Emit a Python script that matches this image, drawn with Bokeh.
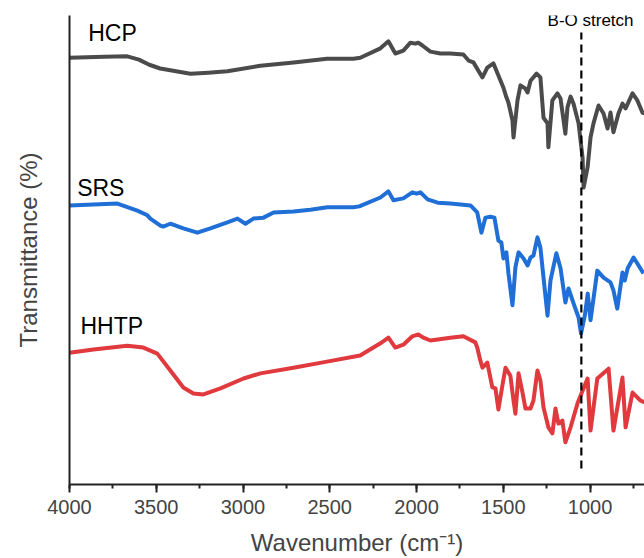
from bokeh.plotting import figure
from bokeh.models import Range1d, SingleIntervalTicker, FixedTicker, Label
from bokeh.embed import file_html
from bokeh.resources import INLINE

FONT = "Liberation Sans"

# Wavenumber (cm-1) and transmittance (arbitrary offset %)
hcp_wn = [4000, 3800, 3667, 3600, 3540, 3477, 3303, 3200, 3090, 2900, 2708, 2516, 2364, 2324,
          2208, 2162, 2122, 2076, 2035, 2006, 1990, 1966, 1920, 1862, 1805, 1730, 1700, 1672,
          1620, 1592, 1557, 1528, 1499, 1485, 1470, 1447, 1441, 1418, 1401, 1372, 1360, 1343,
          1308, 1286, 1268, 1245, 1240, 1217, 1188, 1170, 1142, 1130, 1112, 1095, 1066, 1043,
          1037, 1014, 997, 980, 951, 922, 899, 882, 865, 836, 813, 795, 755, 727, 698, 686]
hcp_t = [91.0, 91.2, 91.3, 90.6, 89.5, 88.7, 87.6, 87.8, 88.1, 89.3, 90.0, 90.8, 90.8, 91.0,
         93.0, 94.5, 91.9, 92.5, 94.2, 94.0, 94.2, 93.6, 92.3, 91.9, 91.9, 91.7, 90.4, 90.0,
         86.8, 88.9, 89.8, 87.2, 84.6, 82.9, 81.4, 77.6, 74.0, 81.9, 85.1, 84.4, 83.6, 86.1,
         87.6, 86.8, 78.2, 77.0, 71.9, 81.9, 83.4, 82.3, 74.8, 80.4, 82.7, 81.2, 77.0, 69.7,
         63.3, 67.6, 74.0, 77.0, 80.8, 79.1, 75.9, 79.3, 75.1, 79.1, 81.2, 80.2, 83.4, 81.9,
         79.3, 79.1]

srs_wn = [4000, 3724, 3609, 3551, 3534, 3476, 3460, 3419, 3344, 3263, 3188, 3090, 3032, 2986,
          2940, 2882, 2824, 2709, 2612, 2514, 2364, 2330, 2208, 2162, 2133, 2076, 2024, 2000,
          1977, 1936, 1878, 1805, 1689, 1650, 1626, 1603, 1574, 1551, 1528, 1511, 1499, 1482,
          1470, 1447, 1430, 1412, 1383, 1360, 1343, 1326, 1303, 1286, 1268, 1245, 1228, 1194,
          1170, 1142, 1124, 1095, 1066, 1052, 1030, 1013, 997, 958, 922, 882, 865, 843, 813,
          800, 783, 749, 720, 692]
srs_t = [59.5, 59.9, 58.4, 57.4, 56.7, 55.2, 55.0, 55.6, 54.6, 53.7, 54.6, 55.9, 56.7, 55.6,
         56.7, 56.9, 58.0, 58.2, 58.6, 59.1, 59.1, 59.3, 61.2, 62.5, 60.6, 61.0, 62.3, 62.0,
         62.3, 60.8, 60.1, 59.9, 59.5, 58.0, 53.7, 56.9, 57.1, 56.9, 52.0, 51.6, 48.2, 49.5,
         45.0, 38.2, 46.3, 49.5, 48.2, 46.7, 48.4, 48.8, 52.7, 50.5, 44.1, 36.0, 43.5, 49.3,
         46.1, 38.8, 41.8, 38.6, 35.6, 32.2, 36.0, 40.7, 35.0, 45.6, 44.1, 43.1, 41.4, 37.5,
         45.2, 43.5, 46.1, 48.4, 46.7, 45.0]

hhtp_wn = [4000, 3862, 3667, 3574, 3494, 3419, 3344, 3286, 3228, 3130, 2997, 2900, 2709, 2516,
           2325, 2208, 2162, 2122, 2076, 2024, 1990, 1960, 1920, 1805, 1730, 1661, 1650, 1632,
           1620, 1592, 1585, 1563, 1545, 1528, 1505, 1487, 1459, 1441, 1430, 1412, 1389, 1372,
           1343, 1326, 1303, 1286, 1268, 1240, 1217, 1199, 1182, 1159, 1142, 1112, 1072, 1043,
           1014, 997, 958, 893, 865, 813, 795, 755, 709, 686]
hhtp_t = [28.1, 28.8, 29.6, 29.2, 27.9, 24.3, 20.7, 19.4, 19.2, 20.5, 22.6, 23.7, 24.9, 26.2,
          27.5, 30.1, 31.3, 29.2, 29.8, 31.6, 32.0, 31.3, 30.7, 31.3, 31.6, 30.3, 29.2, 26.4,
          24.9, 26.0, 24.7, 20.7, 20.5, 16.0, 21.1, 24.9, 23.2, 17.9, 15.1, 23.7, 19.6, 16.2,
          16.2, 17.9, 24.3, 22.2, 16.4, 12.2, 10.9, 16.2, 13.0, 13.6, 9.0, 12.2, 17.3, 20.0,
          22.6, 11.5, 22.6, 24.7, 11.5, 22.8, 12.2, 19.6, 17.9, 17.5]

series_names = ["HCP", "SRS", "HHTP"]
series_colors = ["#4b4b4b", "#1f6fd6", "#e03a3e"]
bo_stretch_wn = 1050
x_ticks_interval = 500

p = figure(width=644, height=558, output_backend="svg", toolbar_location=None,
           x_range=Range1d(4000, 686), y_range=Range1d(0, 100),
           min_border_left=69, min_border_right=0, min_border_top=15, min_border_bottom=74)
p.outline_line_color = None
p.xgrid.visible = False
p.ygrid.visible = False
p.background_fill_color = "white"
p.border_fill_color = "white"

for wn, t, c in zip([hcp_wn, srs_wn, hhtp_wn], [hcp_t, srs_t, hhtp_t], series_colors):
    p.line(wn, t, line_color=c, line_width=4, line_join="round")

# dashed marker line
p.segment(x0=[bo_stretch_wn], y0=[3.4], x1=[bo_stretch_wn], y1=[96.4],
          line_color="black", line_width=2.2, line_dash="8 5")

lbl_pos = [(3892, 96.2), (3956, 63.3), (3937, 33.7)]
for name, (lx, ly) in zip(series_names, lbl_pos):
    p.add_layout(Label(x=lx, y=ly, text=name, text_font=FONT, text_font_size="23px",
                       text_baseline="middle", text_align="left", text_color="black"))
p.add_layout(Label(x=997, y=98.9, text="B-O stretch", text_font=FONT, text_font_size="17px",
                   text_baseline="middle", text_align="center", text_color="black"))

xa = p.xaxis[0]
xa.ticker = SingleIntervalTicker(interval=x_ticks_interval, num_minor_ticks=2)
xa.axis_label = "Wavenumber (cm\u207b\u00b9)"
xa.axis_label_text_font = FONT
xa.axis_label_text_font_style = "normal"
xa.axis_label_text_font_size = "24px"
xa.axis_label_standoff = 12
xa.major_label_text_font = FONT
xa.major_label_text_font_size = "20px"
xa.major_label_standoff = 7
xa.major_tick_out = 8
xa.major_tick_in = 0
xa.minor_tick_out = 4
xa.minor_tick_in = 0
xa.axis_line_width = 2
xa.major_tick_line_width = 2
xa.minor_tick_line_width = 2
xa.axis_line_color = "#222222"
xa.major_tick_line_color = "#222222"
xa.minor_tick_line_color = "#222222"

ya = p.yaxis[0]
ya.ticker = FixedTicker(ticks=[])
ya.axis_label = "Transmittance (%)"
ya.axis_label_text_font = FONT
ya.axis_label_text_font_style = "normal"
ya.axis_label_text_font_size = "24px"
ya.axis_label_standoff = 28
ya.major_label_text_font_size = "0px"
ya.major_tick_line_color = None
ya.minor_tick_line_color = None
ya.axis_line_width = 2
ya.axis_line_color = "#222222"

open("out.html", "w").write(file_html(p, INLINE))
